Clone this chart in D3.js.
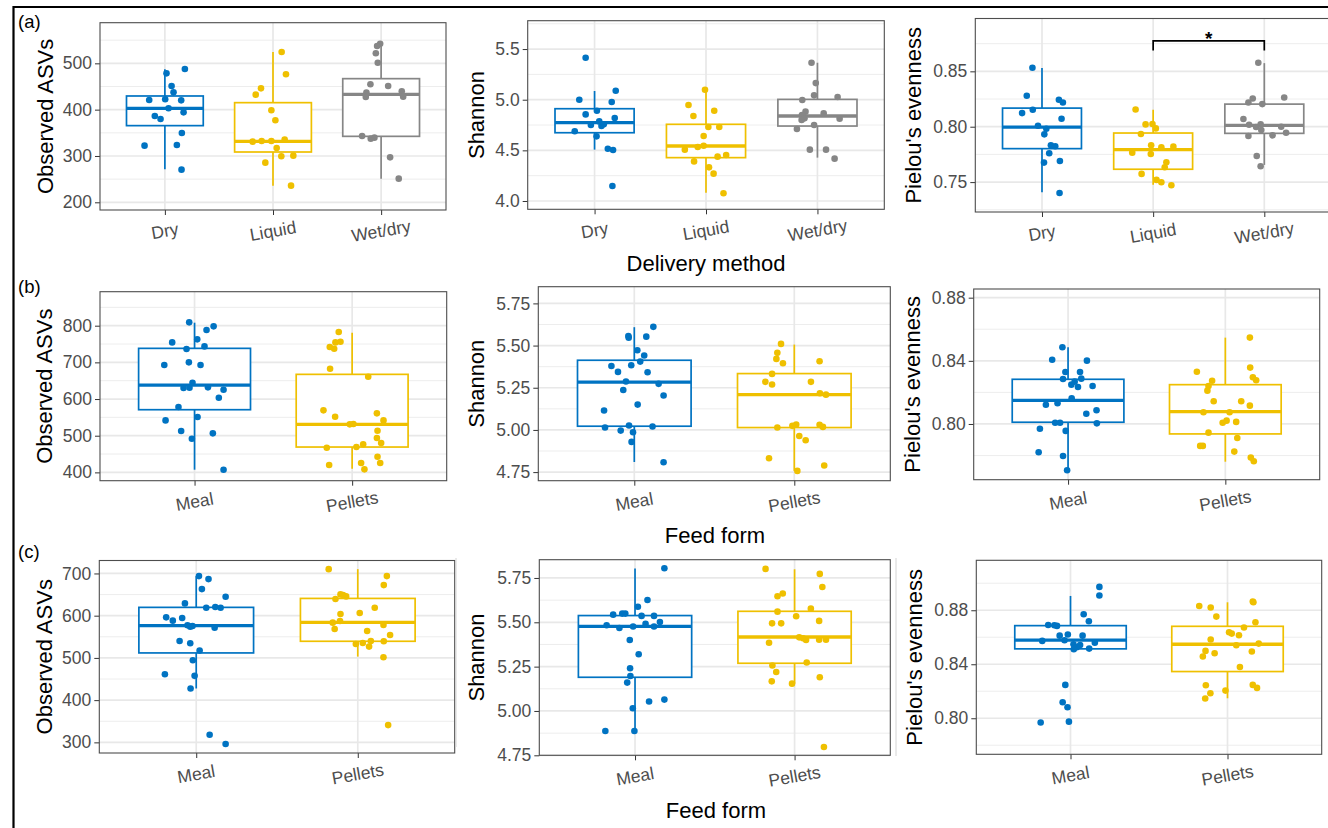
<!DOCTYPE html>
<html>
<head>
<meta charset="utf-8">
<script src="https://cdn.jsdelivr.net/npm/d3@7"></script>
<style>
  html, body { margin: 0; padding: 0; background: #fff; }
  svg { display: block; font-family: "Liberation Sans", Arial, sans-serif; }
</style>
</head>
<body>
<svg id="fig" width="1328" height="828"></svg>
<script>
// ---- categories and colours ----
const deliveryGroups = ["Dry", "Liquid", "Wet/dry"];
const feedGroups = ["Meal", "Pellets"];
const groupColors = ["#0073C2", "#EFC000", "#868686"];

// Each sample: [value, jitter as a fraction of the category step]
// Box statistics: [lower whisker, Q1, median, Q3, upper whisker]

// (a) delivery method — observed ASVs
const asvDry = [[487.8,.185],[478.4,.015],[451.1,.062],[437.4,.080],[420.9,-.145],[422.3,.003],[420.1,.151],[402.9,.034],[394.2,.173],[386.3,-.093],[379.9,-.040],[349.6,.157],[322.3,-.188],[323.7,.111],[270.5,.154]];
const asvLiquid = [[524.5,.080],[476.3,.120],[446.0,-.111],[432.4,-.160],[398.6,-.015],[377.0,.022],[330.9,-.188],[332.4,-.105],[332.4,-.015],[335.3,.108],[317.3,.034],[299.3,.077],[300.7,.188],[285.6,-.071],[236.0,.167]];
const asvWetDry = [[542.4,-.009],[537.4,-.037],[521.6,-.049],[501.4,-.031],[454.7,-.099],[451.1,.065],[436.7,-.136],[427.3,-.142],[439.6,.191],[428.1,.204],[343.2,-.176],[337.4,-.096],[339.6,-.062],[297.1,.083],[251.1,.163]];
const asvDeliveryBoxes = [[271.2,365.5,402.9,429.5,487.0],[236.0,308.6,331.7,415.1,524.5],[251.1,342.4,433.1,466.9,542.4]];

// (a) delivery method — Shannon
const shanDry = [[5.414,-.080],[5.000,-.137],[5.089,.190],[4.977,.154],[4.891,.021],[4.855,-.080],[4.819,.181],[4.786,.042],[4.750,-.033],[4.740,.062],[4.757,.083],[4.688,-.178],[4.638,.018],[4.516,.119],[4.503,.166],[4.148,.160]];
const shanLiquid = [[5.099,-.009],[4.947,-.157],[4.891,.074],[4.839,-.113],[4.730,.021],[4.730,.119],[4.641,-.021],[4.507,-.190],[4.533,-.074],[4.546,-.021],[4.438,.104],[4.454,.181],[4.391,-.107],[4.332,.027],[4.270,.068],[4.076,.157]];
const shanWetDry = [[5.365,-.053],[5.164,-.015],[5.043,-.030],[4.997,-.136],[5.026,.181],[4.882,-.107],[4.849,-.139],[4.865,.056],[4.816,-.116],[4.813,.199],[4.799,-.142],[4.711,-.184],[4.750,-.030],[4.507,-.068],[4.507,.077],[4.418,.154]];
const shanDeliveryBoxes = [[4.507,4.674,4.773,4.911,5.086],[4.082,4.428,4.543,4.757,5.099],[4.428,4.740,4.839,5.003,5.365]];

// (a) delivery method — Pielou's evenness
const pielDry = [[0.8532,-.086],[0.8279,-.137],[0.8123,-.179],[0.8153,-.083],[0.8243,.152],[0.8219,.188],[0.8072,.176],[0.8009,-.036],[0.7982,.039],[0.7931,.021],[0.7832,.080],[0.7823,.119],[0.7760,.065],[0.7676,.018],[0.7691,.161],[0.7402,.158]];
const pielLiquid = [[0.8156,-.158],[0.8021,-.068],[0.8024,-.006],[0.7985,.024],[0.7934,-.110],[0.7832,-.018],[0.7814,.074],[0.7820,.182],[0.7766,-.188],[0.7754,-.021],[0.7679,.119],[0.7634,.104],[0.7574,-.104],[0.7520,.030],[0.7499,.074],[0.7471,.164]];
const pielWetDry = [[0.8577,-.054],[0.8255,-.104],[0.8219,-.143],[0.8204,-.018],[0.8264,.179],[0.8069,-.188],[0.8018,-.137],[0.8021,-.033],[0.8000,.152],[0.7916,-.143],[0.7997,-.074],[0.7970,-.027],[0.7922,.074],[0.7946,.196],[0.7736,-.068],[0.7643,-.033]];
const pielDeliveryBoxes = [[0.7408,0.7802,0.7997,0.8168,0.8529],[0.7477,0.7616,0.7793,0.7943,0.8153],[0.7655,0.7940,0.8012,0.8204,0.8574]];
// Liquid vs Wet/dry comparison: bracket height, tip height, label
const pielBracket = { from: "Liquid", to: "Wet/dry", top: 0.8775, tip: 0.8688, label: "*" };

// (b) feed form — observed ASVs
const asvMealB = [[809.1,-.034],[798.2,.121],[788.2,.076],[762.7,.017],[754.5,-.142],[743.6,.063],[736.4,-.051],[692.7,-.192],[700.0,-.036],[692.7,.038],[644.5,-.013],[630.0,-.070],[630.9,-.032],[631.8,.085],[625.5,.184],[603.6,.154],[578.2,-.102],[550.9,.019],[541.8,-.184],[512.7,-.085],[506.4,.116],[491.8,-.017],[407.3,.184]];
const asvPelletsB = [[782.7,-.085],[754.5,-.106],[756.4,-.074],[741.8,-.142],[737.3,-.114],[682.7,-.140],[660.9,.102],[569.1,-.182],[551.8,-.108],[560.9,.157],[541.8,.199],[530.9,-.015],[531.8,.008],[513.6,.161],[467.3,-.161],[469.1,.027],[476.4,.070],[493.6,.157],[480.0,.184],[442.7,.161],[420.0,-.146],[425.5,.057],[425.5,.178],[408.2,.078]];
const asvFeedBoxesB = [[407.3,570.9,638.2,738.2,808.2],[410.0,469.1,530.9,667.3,780.9]];

// (b) feed form — Shannon
const shanMealB = [[5.611,.119],[5.557,-.037],[5.547,-.035],[5.553,.075],[5.472,.019],[5.441,.062],[5.405,.037],[5.379,-.143],[5.383,-.019],[5.344,-.102],[5.342,.083],[5.287,-.052],[5.273,.152],[5.237,-.069],[5.204,.183],[5.150,.021],[5.115,-.189],[5.014,-.183],[5.026,-.033],[5.020,.114],[4.996,-.085],[4.986,-.008],[4.929,-.017],[4.808,.183]];
const shanPelletsB = [[5.510,-.083],[5.457,-.106],[5.421,-.112],[5.395,-.071],[5.407,.158],[5.332,-.139],[5.285,-.181],[5.269,-.139],[5.285,.104],[5.217,.160],[5.209,.198],[5.014,-.106],[5.024,-.012],[5.032,.012],[5.030,.158],[5.018,.179],[4.964,.031],[4.939,.071],[4.832,-.158],[4.789,.187],[4.757,.019]];
const shanFeedBoxesB = [[4.810,5.022,5.283,5.413,5.609],[4.757,5.014,5.209,5.334,5.506]];

// (b) feed form — Pielou's evenness
const pielMealB = [[0.8486,-.036],[0.8407,-.101],[0.8401,.120],[0.8329,-.017],[0.8329,.076],[0.8285,-.032],[0.8287,.084],[0.8249,.021],[0.8268,.042],[0.8234,.063],[0.8241,.156],[0.8163,.023],[0.8122,-.141],[0.8131,-.067],[0.8087,.181],[0.8065,.116],[0.8008,-.082],[0.8008,-.051],[0.8004,.183],[0.7970,-.179],[0.7956,-.015],[0.7821,-.187],[0.7797,-.032],[0.7707,-.006]];
const pielPelletsB = [[0.8547,.156],[0.8357,.158],[0.8331,-.181],[0.8296,.175],[0.8277,.196],[0.8274,-.084],[0.8241,-.107],[0.8211,-.114],[0.8144,-.074],[0.8144,.101],[0.8116,.156],[0.8074,-.139],[0.8074,.027],[0.8021,.008],[0.8008,-.017],[0.8013,.069],[0.7945,-.107],[0.7911,.076],[0.7861,-.160],[0.7861,-.143],[0.7825,.057],[0.7787,.162],[0.7764,.181]];
const pielFeedBoxesB = [[0.7707,0.8011,0.8150,0.8283,0.8486],[0.7761,0.7937,0.8078,0.8249,0.8547]];

// (c) feed form — observed ASVs
const asvMealC = [[693.7,.017],[686.6,.076],[663.0,.035],[644.9,.182],[629.1,-.070],[618.9,.062],[620.5,.118],[618.9,.151],[596.1,-.186],[588.2,-.145],[594.5,-.087],[577.2,-.054],[574.0,-.037],[575.6,-.023],[571.7,.114],[540.2,-.103],[534.6,-.037],[517.3,.021],[494.5,-.021],[461.4,-.194],[457.5,-.010],[427.6,-.035],[318.1,.083],[296.1,.182]];
const asvPelletsC = [[710.2,-.180],[693.7,.180],[672.4,.161],[650.4,-.107],[648.8,-.091],[645.7,-.072],[639.4,-.138],[618.9,.105],[603.9,-.107],[606.3,.012],[583.5,-.155],[587.4,-.110],[578.0,.159],[568.5,-.143],[563.8,.058],[554.3,.200],[533.1,-.012],[535.4,.031],[540.2,.081],[539.4,.161],[526.8,.070],[501.6,.159],[340.9,.188]];
const asvFeedBoxesC = [[427.6,511.8,576.4,619.7,693.7],[503.1,539.4,584.3,640.9,710.2]];

// (c) feed form — Shannon
const shanMealC = [[5.805,.184],[5.626,.078],[5.588,.018],[5.543,-.137],[5.549,-.080],[5.549,-.061],[5.536,.041],[5.536,.119],[5.483,-.178],[5.468,-.098],[5.476,-.012],[5.491,.066],[5.502,.156],[5.476,.119],[5.400,-.033],[5.320,.023],[5.241,-.031],[5.197,-.029],[5.160,-.049],[5.053,.088],[5.064,.184],[5.015,-.014],[4.887,-.186],[4.887,-.004]];
const shanPelletsC = [[5.801,-.182],[5.773,.158],[5.699,.174],[5.662,-.074],[5.647,-.107],[5.577,.102],[5.560,-.107],[5.534,.010],[5.508,.154],[5.494,-.141],[5.494,-.084],[5.415,.029],[5.410,.053],[5.400,.072],[5.402,.154],[5.402,.197],[5.385,-.160],[5.273,.076],[5.256,-.139],[5.220,-.115],[5.190,.158],[5.167,-.143],[5.154,-.016],[4.797,.184]];
const shanFeedBoxesC = [[4.887,5.190,5.477,5.538,5.803],[5.154,5.269,5.417,5.562,5.799]];

// (c) feed form — Pielou's evenness
const pielMealC = [[0.8973,.184],[0.8909,.184],[0.8770,.084],[0.8719,.117],[0.8691,-.142],[0.8689,-.103],[0.8684,-.086],[0.8612,-.069],[0.8620,-.017],[0.8612,.077],[0.8578,-.038],[0.8573,-.180],[0.8560,.155],[0.8548,.019],[0.8543,.061],[0.8526,.040],[0.8511,.021],[0.8516,.119],[0.8247,-.033],[0.8119,-.050],[0.8081,-.019],[0.7968,-.190],[0.7975,-.010]];
const pielPelletsC = [[0.8864,.161],[0.8859,.165],[0.8832,-.180],[0.8820,-.107],[0.8753,-.071],[0.8711,.178],[0.8672,.105],[0.8637,.010],[0.8627,.027],[0.8615,.073],[0.8583,-.107],[0.8541,.056],[0.8553,.199],[0.8499,-.140],[0.8494,.155],[0.8481,-.082],[0.8457,-.157],[0.8380,.079],[0.8244,-.138],[0.8247,.161],[0.8225,.188],[0.8185,-.109],[0.8205,-.013],[0.8146,-.142]];
const pielFeedBoxesC = [[0.8514,0.8514,0.8578,0.8686,0.8906],[0.8148,0.8346,0.8548,0.8681,0.8859]];

// Axis ticks (labelled) and minor grid values
const ticksASVa = [200, 300, 400, 500], minorASVa = [250, 350, 450, 550];
const ticksShanA = [4.0, 4.5, 5.0, 5.5], minorShanA = [4.25, 4.75, 5.25, 5.75];
const ticksPielA = [0.75, 0.80, 0.85], minorPielA = [0.725, 0.775, 0.825, 0.875];
const ticksASVb = [400, 500, 600, 700, 800], minorASVb = [450, 550, 650, 750, 850];
const ticksShanBC = [4.75, 5.00, 5.25, 5.50, 5.75], minorShanBC = [4.875, 5.125, 5.375, 5.625];
const ticksPielB = [0.80, 0.84, 0.88], minorPielB = [0.78, 0.82, 0.86];
const ticksASVc = [300, 400, 500, 600, 700], minorASVc = [350, 450, 550, 650];
const ticksPielC = [0.80, 0.84, 0.88], minorPielC = [0.78, 0.82, 0.86, 0.90];

// ---- panel layout ----
const panels = [
  { box: [100, 446, 22.7, 210], domain: [183.4, 587.7], groups: deliveryGroups, samples: [asvDry, asvLiquid, asvWetDry], stats: asvDeliveryBoxes,
    ticks: ticksASVa, minor: minorASVa, fmt: d3.format("d"), ytitle: "Observed ASVs", titleX: 53 },
  { box: [527.7, 884.3, 20.7, 209.3], domain: [3.918, 5.78], groups: deliveryGroups, samples: [shanDry, shanLiquid, shanWetDry], stats: shanDeliveryBoxes,
    ticks: ticksShanA, minor: minorShanA, fmt: d3.format(".1f"), ytitle: "Shannon", titleX: 484 },
  { box: [975.3, 1331, 18.5, 212], domain: [0.723, 0.8977], groups: deliveryGroups, samples: [pielDry, pielLiquid, pielWetDry], stats: pielDeliveryBoxes,
    ticks: ticksPielA, minor: minorPielA, fmt: d3.format(".2f"), ytitle: "Pielou's evenness", titleX: 920.5, bracket: pielBracket },
  { box: [100, 446.7, 291.7, 480.7], domain: [377.3, 892.7], groups: feedGroups, samples: [asvMealB, asvPelletsB], stats: asvFeedBoxesB,
    ticks: ticksASVb, minor: minorASVb, fmt: d3.format("d"), ytitle: "Observed ASVs", titleX: 52.3 },
  { box: [538.3, 890.3, 286.7, 480.7], domain: [4.699, 5.849], groups: feedGroups, samples: [shanMealB, shanPelletsB], stats: shanFeedBoxesB,
    ticks: ticksShanBC, minor: minorShanBC, fmt: d3.format(".2f"), ytitle: "Shannon", titleX: 484 },
  { box: [973.7, 1319.7, 289, 479.7], domain: [0.7647, 0.8855], groups: feedGroups, samples: [pielMealB, pielPelletsB], stats: pielFeedBoxesB,
    ticks: ticksPielB, minor: minorPielB, fmt: d3.format(".2f"), ytitle: "Pielou's evenness", titleX: 920 },
  { box: [99.3, 454.7, 560.5, 753], domain: [274.8, 730.7], groups: feedGroups, samples: [asvMealC, asvPelletsC], stats: asvFeedBoxesC,
    ticks: ticksASVc, minor: minorASVc, fmt: d3.format("d"), ytitle: "Observed ASVs", titleX: 51.7 },
  { box: [539.3, 890.3, 559.7, 755.3], domain: [4.75, 5.853], groups: feedGroups, samples: [shanMealC, shanPelletsC], stats: shanFeedBoxesC,
    ticks: ticksShanBC, minor: minorShanBC, fmt: d3.format(".2f"), ytitle: "Shannon", titleX: 484 },
  { box: [976.3, 1321.7, 560.3, 754.3], domain: [0.7733, 0.917], groups: feedGroups, samples: [pielMealC, pielPelletsC], stats: pielFeedBoxesC,
    ticks: ticksPielC, minor: minorPielC, fmt: d3.format(".2f"), ytitle: "Pielou's evenness", titleX: 921.7 }
];

const svg = d3.select("#fig");
const TICK_FONT = 17.5, TITLE_FONT = 22, BOX_WIDTH = 0.71;

panels.forEach(p => {
  const [x0, x1, y0, y1] = p.box;
  const x = d3.scalePoint().domain(p.groups).range([x0, x1]).padding(0.6);
  const y = d3.scaleLinear().domain(p.domain).range([y1, y0]);
  const step = x.step();
  const g = svg.append("g");

  // grid
  g.selectAll("line.minor").data(p.minor).join("line")
    .attr("x1", x0).attr("x2", x1).attr("y1", d => y(d)).attr("y2", d => y(d))
    .attr("stroke", "#EBEBEB").attr("stroke-width", 0.9);
  g.selectAll("line.major").data(p.ticks).join("line")
    .attr("x1", x0).attr("x2", x1).attr("y1", d => y(d)).attr("y2", d => y(d))
    .attr("stroke", "#E8E8E8").attr("stroke-width", 1.7);
  g.selectAll("line.vmajor").data(p.groups).join("line")
    .attr("x1", d => x(d)).attr("x2", d => x(d)).attr("y1", y0).attr("y2", y1)
    .attr("stroke", "#E8E8E8").attr("stroke-width", 1.7);

  // y axis ticks + labels
  const yAxis = d3.axisLeft(y).tickValues(p.ticks).tickFormat(p.fmt).tickSize(5).tickPadding(3);
  const ya = g.append("g").attr("transform", `translate(${x0},0)`).call(yAxis);
  ya.select(".domain").remove();
  ya.selectAll("line").attr("stroke", "#333").attr("stroke-width", 1);
  ya.selectAll("text").attr("font-size", TICK_FONT).attr("fill", "#4D4D4D")
    .attr("font-family", "Liberation Sans, Arial, sans-serif");

  // x axis ticks + rotated labels
  const xAxis = d3.axisBottom(x).tickSize(5).tickFormat("");
  const xa = g.append("g").attr("transform", `translate(0,${y1})`).call(xAxis);
  xa.select(".domain").remove();
  xa.selectAll("line").attr("stroke", "#333").attr("stroke-width", 1);
  g.selectAll("text.xlab").data(p.groups).join("text")
    .attr("class", "xlab")
    .attr("transform", d => `translate(${x(d)},${y1 + 21}) rotate(-10)`)
    .attr("text-anchor", "middle").attr("dominant-baseline", "central")
    .attr("font-size", TICK_FONT).attr("fill", "#4D4D4D")
    .text(d => d);

  // y title
  g.append("text")
    .attr("transform", `translate(${p.titleX},${(y0 + y1) / 2}) rotate(-90)`)
    .attr("text-anchor", "middle").attr("font-size", TITLE_FONT).attr("fill", "#000")
    .text(p.ytitle);

  // boxes
  const half = BOX_WIDTH * step / 2;
  p.groups.forEach((grp, i) => {
    const [lo, q1, med, q3, hi] = p.stats[i];
    const cx = x(grp), col = groupColors[i];
    const bg = g.append("g");
    bg.append("line").attr("x1", cx).attr("x2", cx).attr("y1", y(hi)).attr("y2", y(q3))
      .attr("stroke", col).attr("stroke-width", 1.7);
    bg.append("line").attr("x1", cx).attr("x2", cx).attr("y1", y(q1)).attr("y2", y(lo))
      .attr("stroke", col).attr("stroke-width", 1.7);
    bg.append("rect").attr("x", cx - half).attr("width", 2 * half)
      .attr("y", y(q3)).attr("height", y(q1) - y(q3))
      .attr("fill", "#fff").attr("stroke", col).attr("stroke-width", 1.7);
    bg.append("line").attr("x1", cx - half).attr("x2", cx + half).attr("y1", y(med)).attr("y2", y(med))
      .attr("stroke", col).attr("stroke-width", 3.3);
  });

  // jittered samples
  p.groups.forEach((grp, i) => {
    g.append("g").selectAll("circle").data(p.samples[i]).join("circle")
      .attr("cx", d => x(grp) + d[1] * step)
      .attr("cy", d => y(d[0]))
      .attr("r", 3.3)
      .attr("fill", groupColors[i]);
  });

  // significance bracket
  if (p.bracket) {
    const b = p.bracket;
    const bx0 = x(b.from), bx1 = x(b.to);
    g.append("path")
      .attr("d", `M${bx0},${y(b.tip)}V${y(b.top)}H${bx1}V${y(b.tip)}`)
      .attr("fill", "none").attr("stroke", "#000").attr("stroke-width", 1.7);
    g.append("text").attr("x", (bx0 + bx1) / 2).attr("y", y(b.top) + 4)
      .attr("text-anchor", "middle").attr("font-size", 19).attr("font-weight", "bold")
      .text(b.label);
  }

  // panel border
  g.append("rect").attr("x", x0).attr("y", y0).attr("width", x1 - x0).attr("height", y1 - y0)
    .attr("fill", "none").attr("stroke", "#4D4D4D").attr("stroke-width", 1.1);
});

// x-axis titles
const xTitles = [["Delivery method", 706, 271], ["Feed form", 715, 543], ["Feed form", 716, 818]];
svg.selectAll("text.xtitle").data(xTitles).join("text")
  .attr("class", "xtitle")
  .attr("x", d => d[1]).attr("y", d => d[2])
  .attr("text-anchor", "middle").attr("font-size", TITLE_FONT).attr("fill", "#000")
  .text(d => d[0]);

// row labels
const rowLabels = [["(a)", 18, 28], ["(b)", 18, 293], ["(c)", 18, 558]];
svg.selectAll("text.rowlab").data(rowLabels).join("text")
  .attr("class", "rowlab")
  .attr("x", d => d[1]).attr("y", d => d[2])
  .attr("font-size", 18.5).attr("fill", "#000")
  .text(d => d[0]);

// faint edges between the lower row's sub-figures
svg.append("line").attr("x1", 456).attr("x2", 456).attr("y1", 558).attr("y2", 747)
  .attr("stroke", "#d4d4d4").attr("stroke-width", 1);
svg.append("line").attr("x1", 896).attr("x2", 896).attr("y1", 558).attr("y2", 756)
  .attr("stroke", "#d4d4d4").attr("stroke-width", 1);

// outer figure border
svg.append("path").attr("d", "M13.5,840V7H1340")
  .attr("fill", "none").attr("stroke", "#000").attr("stroke-width", 2.2);
</script>
</body>
</html>
